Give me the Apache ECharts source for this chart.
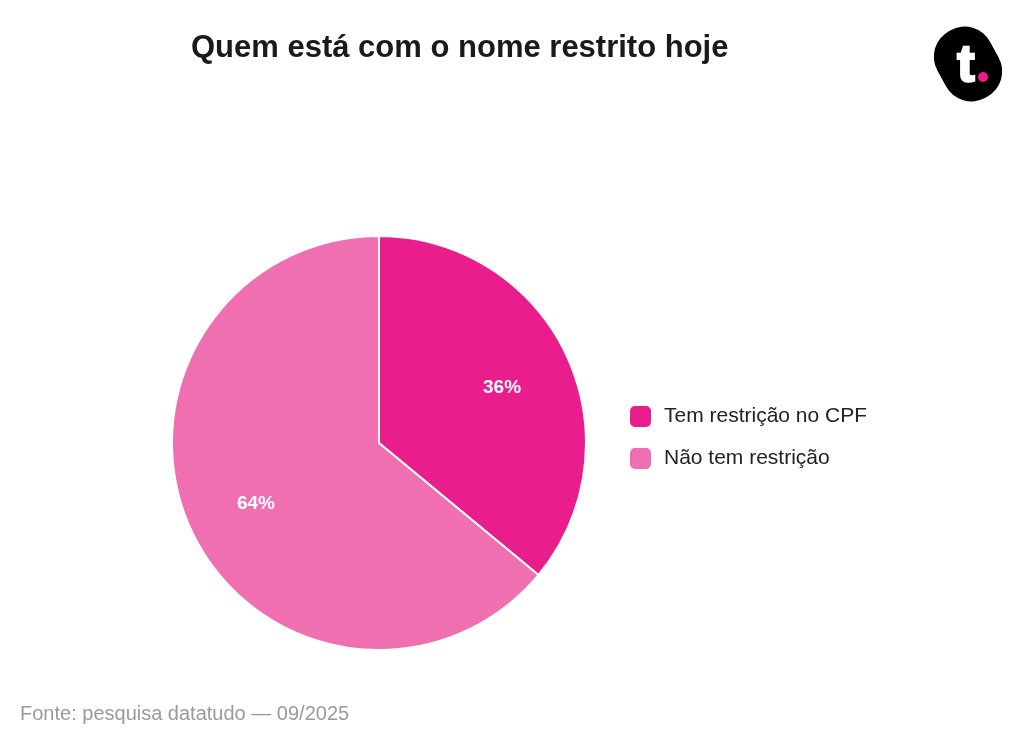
<!DOCTYPE html>
<html><head><meta charset="utf-8">
<script src="https://cdn.jsdelivr.net/npm/echarts@6/dist/echarts.min.js"></script>
<style>html,body{margin:0;padding:0;background:#fff}#c{width:1024px;height:751px}</style>
</head><body><div id="c"></div>
<script>
const categories = ['Tem restrição no CPF', 'Não tem restrição'];
const values = [36, 64];
const colors = ['#E91E8C', '#F06FB0'];
const titleText = 'Quem está com o nome restrito hoje';
const sourceText = 'Fonte: pesquisa datatudo — 09/2025';

const chart = echarts.init(document.getElementById('c'));
const data = categories.map((n, i) => ({ name: n, value: values[i], itemStyle: { color: colors[i] } }));
const FONT = "'Liberation Sans', Arial, sans-serif";
chart.setOption({
  animation: false,
  title: {
    text: titleText, left: 186, top: 28,
    textStyle: { fontFamily: FONT, fontSize: 31, fontWeight: 'bold', color: '#1a1a1a' }
  },
  legend: {
    orient: 'vertical', left: 623, top: 399,
    itemWidth: 23, itemHeight: 23, itemGap: 17, icon: 'roundRect',
    data: categories,
    textStyle: { fontFamily: FONT, fontSize: 21, color: '#222', padding: [0, 0, 0, 7] }
  },
  graphic: [
    { type: 'text', left: 20, top: 704, style: { text: sourceText, font: "20px 'Liberation Sans', Arial, sans-serif", fill: '#9a9a9a' } },
    { type: 'rect', x: 968, y: 64, rotation: 0.5,
      shape: { x: -30, y: -38, width: 60, height: 76, r: 29 }, style: { fill: '#000' } },
    { type: 'text', x: 966, y: 41, style: { text: 't', font: "bold 52px 'Liberation Sans', Arial, sans-serif", fill: '#fff', stroke: '#fff', lineWidth: 2.5, align: 'center' } },
    { type: 'circle', shape: { cx: 983, cy: 77, r: 5 }, style: { fill: '#E91E8C' } }
  ],
  series: [
    {
      type: 'pie', center: [379, 443], radius: [0, 207], startAngle: 90, clockwise: true,
      data: data,
      itemStyle: { borderColor: '#fff', borderWidth: 2 },
      label: { show: false }, labelLine: { show: false }, emphasis: { disabled: true }
    },
    {
      type: 'pie', center: [379, 443], radius: [0, 266], startAngle: 90, clockwise: true,
      silent: true, legendHoverLink: false, z: 3,
      data: categories.map((n, i) => ({ name: n, value: values[i], itemStyle: { color: 'rgba(0,0,0,0)', borderWidth: 0 } })),
      label: { show: true, position: 'inside', formatter: '{c}%', color: '#fff', fontFamily: FONT, fontSize: 19, fontWeight: 'bold', textBorderWidth: 0, offset: [0, 3] },
      labelLine: { show: false }, emphasis: { disabled: true }
    }
  ]
});
</script></body></html>
